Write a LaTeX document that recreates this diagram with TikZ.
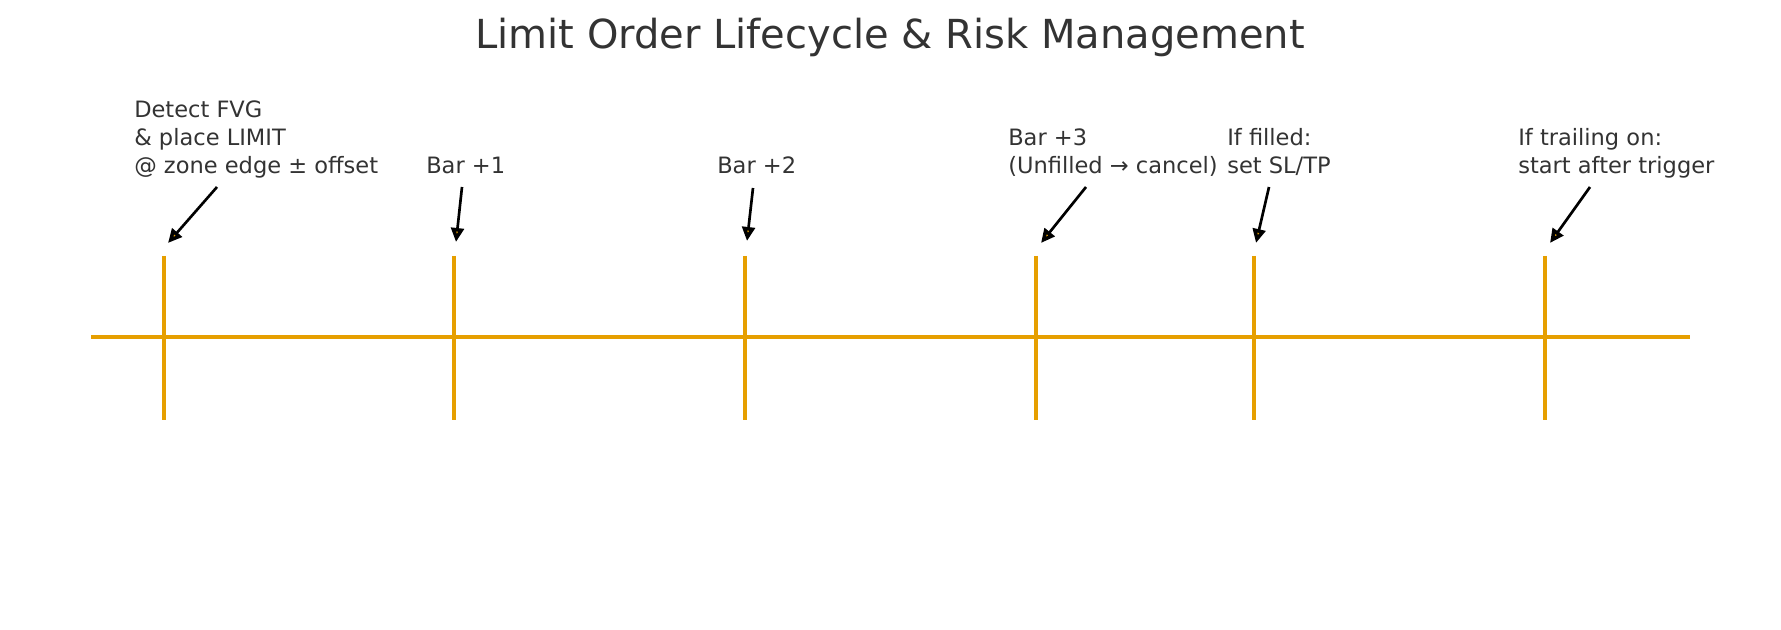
\documentclass[tikz,border=0pt]{standalone}
\usepackage{fontspec}
\setmainfont{DejaVu Sans}
\usetikzlibrary{arrows.meta}
\definecolor{lineorange}{HTML}{E69F00}
\definecolor{txtgray}{HTML}{333333}
\tikzset{
  lbl/.style={anchor=base west, align=left, inner sep=0pt, text=txtgray,
    font=\fontsize{16.9}{21}\selectfont},
  ptr/.style={-{Triangle[open, fill=lineorange, line width=3pt, length=10.5pt, width=9.5pt]}, line width=2pt},
}
\begin{document}
\begin{tikzpicture}[x=0.75pt, y=-0.75pt]
		\useasboundingbox (0,0) rectangle (1781,630);
		% title
		\node[anchor=base, inner sep=0pt, text=txtgray, font=\fontsize{30}{36}\selectfont] (title) at (890,49) {Limit Order Lifecycle \& Risk Management};
		% time line and bars
		\draw[lineorange, line width=2.7pt] (91,337) -- (1690,337);
		\foreach \x [count=\i from 0] in {164, 454, 745, 1036, 1254, 1545} {
				\draw[lineorange, line width=2.7pt] (\x,256) -- (\x,420);
			}
		% labels
		\node[lbl] (l0) at (134,174) {Detect FVG\\\& place LIMIT\\@ zone edge ± offset};
		\node[lbl] (l1) at (426,174) {Bar +1};
		\node[lbl] (l2) at (717,174) {Bar +2};
		\node[lbl] (l3) at (1008,174) {Bar +3\\(Unfilled → cancel)};
		\node[lbl] (l4) at (1227,174) {If filled:\\set SL/TP};
		\node[lbl] (l5) at (1518,174) {If trailing on:\\start after trigger};
		% pointers
		\foreach \i/\ax/\ay/\bx/\by in {0/217/187/168/243, 1/462/187/456/242, 2/753/188/747/241,
				3/1086/187/1041/243, 4/1269/187/1256/243, 5/1590/187/1550/243} {
				\coordinate (from\i) at (\ax,\ay);
				\coordinate (to\i) at (\bx,\by);
				\draw[ptr] (from\i) -- (to\i);
			}
\end{tikzpicture}
\end{document}
